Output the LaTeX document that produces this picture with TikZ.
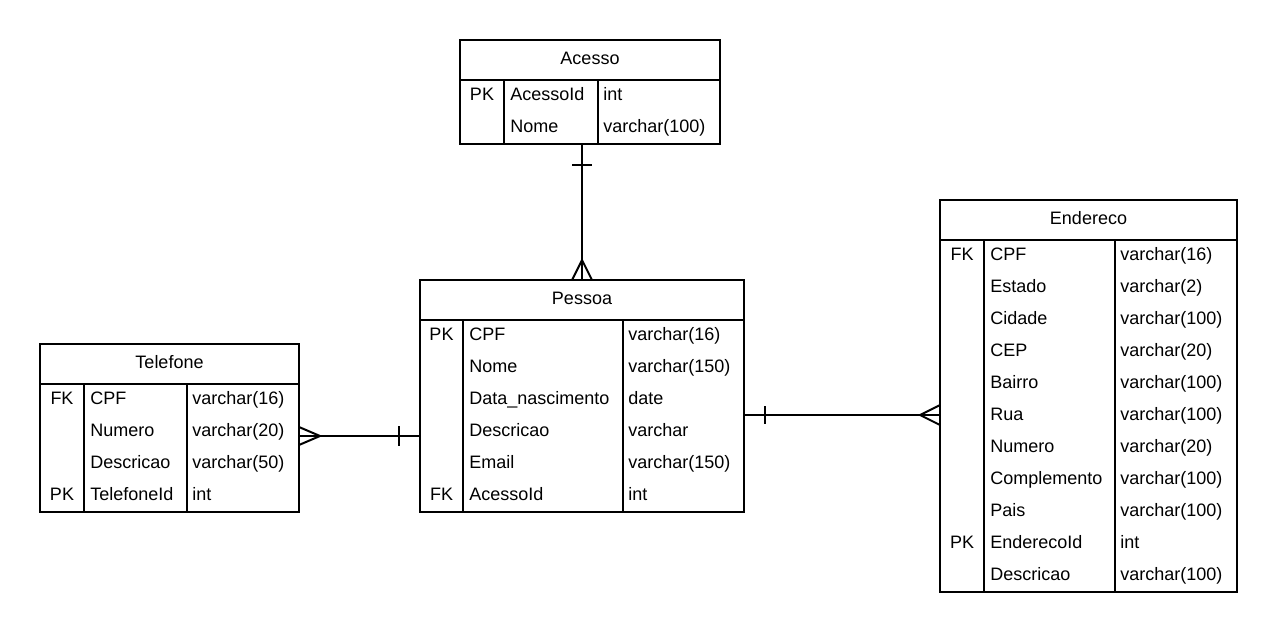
\documentclass[tikz,border=0pt]{standalone}
\usepackage{fontspec}
\setmainfont{Liberation Sans}
\usetikzlibrary{calc}
\tikzset{
  tablebox/.style={draw=black, line width=1.5pt, fill=white, rectangle, inner sep=0pt, outer sep=0pt, anchor=north west},
  rule/.style={draw=black, line width=1.5pt},
  cell/.style={inner sep=0pt, font=\fontsize{13.5pt}{16pt}\selectfont, text=black},
  rel/.style={draw=black, line width=1.5pt},
}
% #1 name, #2 x, #3 y, #4 width, #5 key col width, #6 type col offset, #7 title, #8 rows, #9 row count
\newcommand{\ertable}[9]{%
  \node[tablebox, minimum width=#4*0.75pt, minimum height={(40+32*#9)*0.75pt}] (#1) at (#2,#3) {};
  \node[cell, anchor=base] (#1-title) at (#2+#4/2, #3+24) {#7};
  \draw[rule] (#2,#3+40) -- (#2+#4,#3+40);
  \draw[rule] (#2+#5,#3+40) -- (#2+#5,#3+40+32*#9);
  \draw[rule] (#2+#6,#3+40) -- (#2+#6,#3+40+32*#9);
  \foreach [count=\i] \ka/\nb/\tc in {#8} {
    \node[cell, anchor=base] (#1-k\i) at (#2+#5/2, #3+40+32*\i-32+20) {\ka};
    \node[cell, anchor=base west] (#1-n\i) at (#2+#5+6, #3+40+32*\i-32+20) {\nb};
    \node[cell, anchor=base west] (#1-t\i) at (#2+#6+5, #3+40+32*\i-32+20) {\tc};
  }%
}
\begin{document}
\begin{tikzpicture}[x=0.75pt, y=-0.75pt]
\useasboundingbox[fill=white] (0,0) rectangle (1278,632);

\ertable{acesso}{460}{40}{260}{44}{138}{Acesso}{PK/AcessoId/int, /Nome/varchar(100)}{2}
\ertable{pessoa}{420}{280}{324}{43}{203}{Pessoa}{PK/CPF/varchar(16), /Nome/varchar(150), /Data\_nascimento/date, /Descricao/varchar, /Email/varchar(150), FK/AcessoId/int}{6}
\ertable{telefone}{40}{344}{259}{44}{147}{Telefone}{FK/CPF/varchar(16), /Numero/varchar(20), /Descricao/varchar(50), PK/TelefoneId/int}{4}
\ertable{endereco}{940}{200}{297}{44}{175}{Endereco}{FK/CPF/varchar(16), /Estado/varchar(2), /Cidade/varchar(100), /CEP/varchar(20), /Bairro/varchar(100), /Rua/varchar(100), /Numero/varchar(20), /Complemento/varchar(100), /Pais/varchar(100), PK/EnderecoId/int, /Descricao/varchar(100)}{11}

% Acesso (one) -- Pessoa (many)
\coordinate (ap) at (pessoa.north |- acesso.south);
\draw[rel] (ap) -- (pessoa.north);
\draw[rel] ($(ap)+(-10,21)$) -- ($(ap)+(10,21)$);
\draw[rel] ($(pessoa.north)+(-10,0)$) -- ($(pessoa.north)+(0,-20)$) -- ($(pessoa.north)+(10,0)$);

% Telefone (many) -- Pessoa (one)
\coordinate (tp) at ($(telefone.east)+(0,8)$);
\coordinate (tq) at (tp -| pessoa.west);
\draw[rel] (tp) -- (tq);
\draw[rel] ($(tp)+(0,-9)$) -- ($(tp)+(21,0)$) -- ($(tp)+(0,9)$);
\draw[rel] ($(tq)+(-21,-10)$) -- ($(tq)+(-21,10)$);

% Pessoa (one) -- Endereco (many)
\coordinate (pe) at ($(pessoa.east)+(0,19)$);
\coordinate (pf) at (pe -| endereco.west);
\draw[rel] (pe) -- (pf);
\draw[rel] ($(pe)+(21,-9)$) -- ($(pe)+(21,9)$);
\draw[rel] ($(pf)+(0,-10)$) -- ($(pf)+(-20,0)$) -- ($(pf)+(0,10)$);
\end{tikzpicture}
\end{document}
